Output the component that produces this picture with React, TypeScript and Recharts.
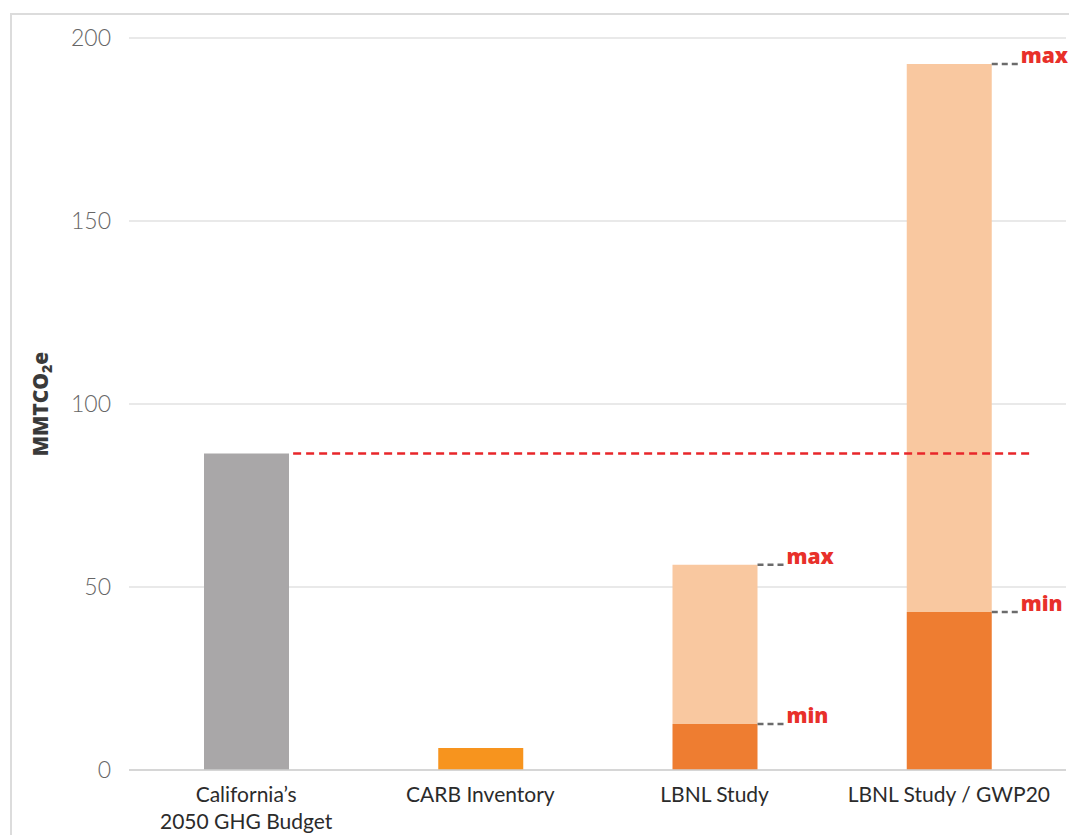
import { Bar, BarChart, CartesianGrid, LabelList, ReferenceLine, XAxis, YAxis } from 'recharts';

const categories = ['California’s\n2050 GHG Budget', 'CARB Inventory', 'LBNL Study', 'LBNL Study / GWP20'];
const budget = [86.5, 0, 0, 0];
const carb = [0, 6, 0, 0];
const lbnlMin = [0, 0, 12.6, 43.2];
const lbnlMax = [0, 0, 56.1, 192.9];
const yTicks = [0, 50, 100, 150, 200];
const budgetLine = 86.5;

const data = categories.map((name, i) => ({
  name,
  budget: budget[i],
  carb: carb[i],
  min: lbnlMin[i],
  range: lbnlMax[i] > 0 ? lbnlMax[i] - lbnlMin[i] : 0,
}));

const FONT = 'Lato, "Noto Sans", sans-serif';

function CategoryTick({ x, y, payload }: any) {
  const lines = String(payload.value).split('\n');
  return (
    <text x={x} y={y + 24} textAnchor="middle" fontFamily={FONT} fontSize={21} fill="#2b2b2b">
      {lines.map((l, i) => (
        <tspan key={i} x={x} dy={i === 0 ? 0 : 27}>
          {l}
        </tspan>
      ))}
    </text>
  );
}

function rangeMarker(word: string) {
  return (props: any) => {
    const { x, y, width, value } = props;
    if (!value) return null;
    const x0 = x + width;
    return (
      <g>
        <line x1={x0} y1={y} x2={x0 + 28} y2={y} stroke="#6b6b6b" strokeWidth={2.5} strokeDasharray="6 4" />
        <text x={x0 + 29} y={y - 1} fontFamily='"Open Sans", sans-serif' fontWeight={800} fontSize={21} fill="#e8302a">
          {word}
        </text>
      </g>
    );
  };
}

function BudgetLine(props: any) {
  const { x1, x2, y1 } = props;
  return <line x1={x1 + 47} x2={x2 + 81} y1={y1} y2={y1} stroke="#e8262a" strokeWidth={2.5} strokeDasharray="8 5" />;
}

function YLabel({ viewBox }: any) {
  const cx = 28;
  const cy = viewBox.y + viewBox.height / 2;
  return (
    <text
      x={cx}
      y={cy}
      transform={`rotate(-90 ${cx} ${cy})`}
      textAnchor="middle"
      dominantBaseline="central"
      fontFamily='"Open Sans", sans-serif'
      fontWeight={800}
      fontSize={21}
      fill="#3a3a3a"
    >
      MMTCO<tspan fontSize={14} dy={6}>2</tspan>
      <tspan dy={-6}>e</tspan>
    </text>
  );
}

export default function App() {
  return (
    <div
      style={{
        marginTop: 5,
        marginLeft: 2,
        width: 1063,
        height: 820,
        borderTop: '2px solid #dcdcdc',
        borderLeft: '2px solid #dcdcdc',
        borderRight: '2px solid #dcdcdc',
      }}
    >
      <style>{'.recharts-surface, .recharts-wrapper { overflow: visible !important; }'}</style>
      <BarChart
        width={1063}
        height={820}
        data={data}
        margin={{ top: 23, right: 9, left: 0, bottom: 0 }}
        barSize={85}
      >
        <CartesianGrid vertical={false} stroke="#d4d4d4" strokeWidth={1.2} />
        <XAxis
          dataKey="name"
          interval={0}
          height={65}
          tickLine={false}
          axisLine={{ stroke: '#cfcfcf', strokeWidth: 1.5 }}
          tick={<CategoryTick />}
        />
        <YAxis
          domain={[0, 200]}
          ticks={yTicks}
          width={117}
          tickLine={false}
          axisLine={false}
          tickMargin={12}
          tick={{ fontFamily: FONT, fontWeight: 300, fontSize: 23, fill: '#666' }}
          label={<YLabel />}
        />
        <Bar dataKey="budget" stackId="a" fill="#a9a7a8" isAnimationActive={false} />
        <Bar dataKey="carb" stackId="a" fill="#f7941e" isAnimationActive={false} />
        <Bar dataKey="min" stackId="a" fill="#ee7d31" isAnimationActive={false}>
          <LabelList dataKey="min" content={rangeMarker('min')} />
        </Bar>
        <Bar dataKey="range" stackId="a" fill="#f9c8a0" isAnimationActive={false}>
          <LabelList dataKey="range" content={rangeMarker('max')} />
        </Bar>
        <ReferenceLine
          segment={[
            { x: categories[0], y: budgetLine },
            { x: categories[3], y: budgetLine },
          ]}
          shape={<BudgetLine />}
        />
      </BarChart>
    </div>
  );
}
